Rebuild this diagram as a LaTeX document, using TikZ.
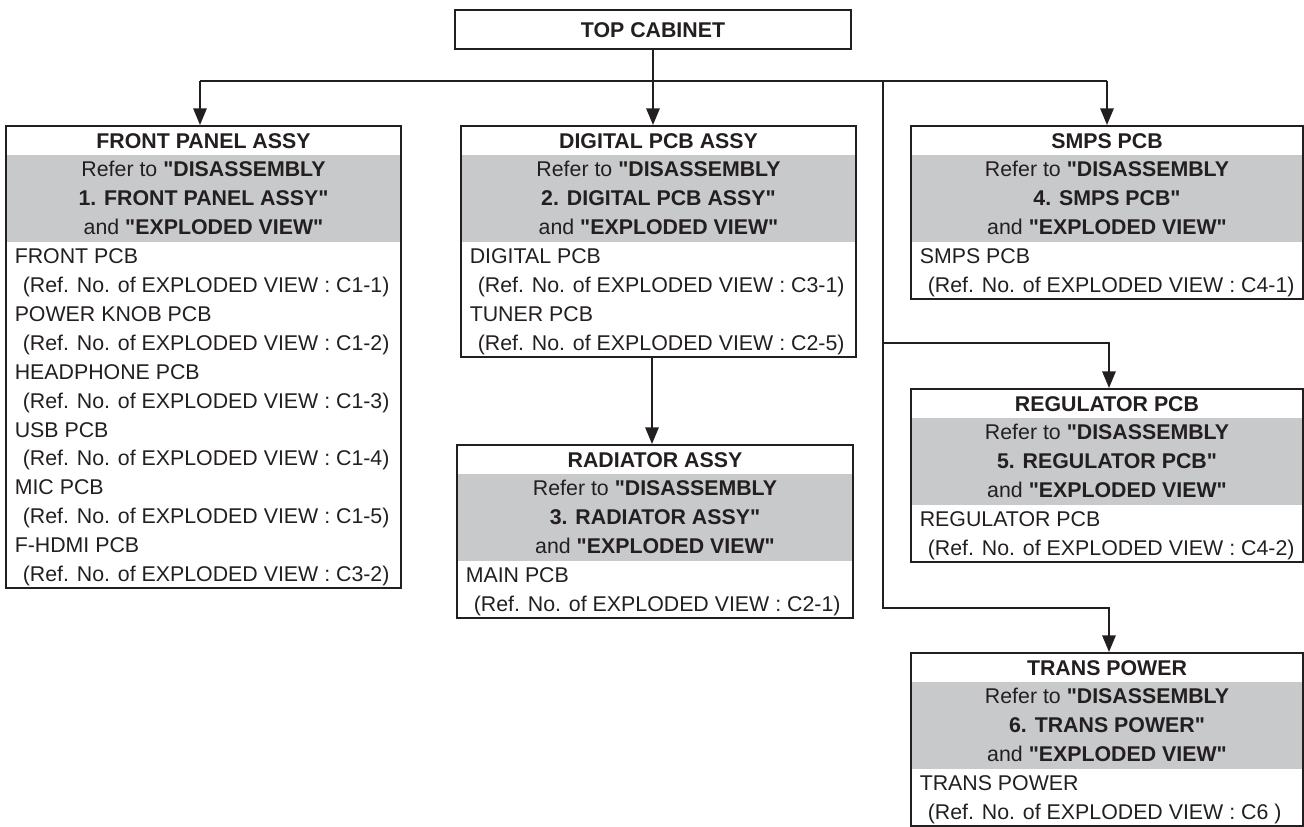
\documentclass[tikz,border=0pt]{standalone}
\usepackage{fontspec}
\newfontfamily\lib{Liberation Sans}
\setmainfont{Liberation Sans}
\usetikzlibrary{arrows.meta,fit}
\definecolor{ink}{RGB}{35,31,32}
\definecolor{band}{RGB}{200,201,203}
\newcommand\rp{28.9}
% #1 name, #2 L, #3 T, #4 R, #5 title, #6 disassembly item, #7 number of items, #8 list name/ref
\newcommand\mkbox[8]{%
  \fill[band] (#2,#3+\rp) rectangle (#4,#3+4*\rp);
  \node[boxframe, fit={(#2,#3) (#4,#3+4*\rp+2*#7*\rp)}] (#1) {};
  \node[ttl] (#1-t) at ({(#2+#4)/2},#3+0.5*\rp+7.6) {#5};
  \node[txt] (#1-g1) at ({(#2+#4)/2},#3+1.5*\rp+7.6) {Refer to \textbf{"DISASSEMBLY}};
  \node[txt] (#1-g2) at ({(#2+#4)/2},#3+2.5*\rp+7.6) {\textbf{#6"}};
  \node[txt] (#1-g3) at ({(#2+#4)/2},#3+3.5*\rp+7.6) {and \textbf{"EXPLODED VIEW"}};
  \foreach \nm/\rf [count=\i] in {#8}{
    \node[ltxt] (#1-n\i) at (#2+8.5,#3+4*\rp+2*\i*\rp-1.5*\rp+7.6) {\nm};
    \node[ltxt] (#1-r\i) at (#2+16.5,#3+4*\rp+2*\i*\rp-0.5*\rp+7.6) {(Ref. No. of EXPLODED VIEW : \rf};
  }%
}
\tikzset{
  boxframe/.style={draw=ink, line width=1.5pt, inner sep=0pt},
  txt/.style={anchor=base, inner sep=0pt, text=ink, font=\lib\fontsize{16pt}{19pt}\selectfont},
  ttl/.style={txt, font=\lib\fontsize{16pt}{19pt}\selectfont\bfseries},
  ltxt/.style={txt, anchor=base west},
  ln/.style={draw=ink, line width=1.5pt},
  arr/.style={ln, -{Triangle[length=12.5pt,width=10pt]}},
}
\begin{document}
\begin{tikzpicture}[x=0.75pt,y=-0.75pt]
\useasboundingbox (0,0) rectangle (1304,827);
% top cabinet
\node[boxframe, fit={(455,10) (851,49)}] (tc) {};
\node[ttl] (tc-t) at (653,37.1) {TOP CABINET};
% boxes
\mkbox{fp}{6}{126}{401}{FRONT PANEL ASSY}{1. FRONT PANEL ASSY}{6}{FRONT PCB/C1-1), POWER KNOB PCB/C1-2), HEADPHONE PCB/C1-3), USB PCB/C1-4), MIC PCB/C1-5), F-HDMI PCB/C3-2)}
\mkbox{dg}{461}{126}{856}{DIGITAL PCB ASSY}{2. DIGITAL PCB ASSY}{2}{DIGITAL PCB/C3-1), TUNER PCB/C2-5)}
\mkbox{rd}{457}{445}{853}{RADIATOR ASSY}{3. RADIATOR ASSY}{1}{MAIN PCB/C2-1)}
\mkbox{sm}{911}{126}{1303}{SMPS PCB}{4. SMPS PCB}{1}{SMPS PCB/C4-1)}
\mkbox{rg}{911}{389}{1303}{REGULATOR PCB}{5. REGULATOR PCB}{1}{REGULATOR PCB/C4-2)}
\mkbox{tp}{911}{653}{1303}{TRANS POWER}{6. TRANS POWER}{1}{TRANS POWER/C6 )}
% connectors
\coordinate (fpj) at (200,81);
\coordinate (smj) at (1107,81);
\coordinate (vj) at (883,81);
\coordinate (rgj) at (1109,343);
\coordinate (tpj) at (1109,608);
\coordinate (dgj) at (652,0);
\draw[ln] (fpj) -- (smj);
\draw[arr] (tc.south) -- (tc.south |- dg.north);
\draw[arr] (fpj) -- (fpj |- fp.north);
\draw[arr] (smj) -- (smj |- sm.north);
\draw[arr] (vj) |- (rgj) -- (rgj |- rg.north);
\draw[arr] (vj) |- (tpj) -- (tpj |- tp.north);
\draw[arr] (dgj |- dg.south) -- (dgj |- rd.north);
\end{tikzpicture}
\end{document}
